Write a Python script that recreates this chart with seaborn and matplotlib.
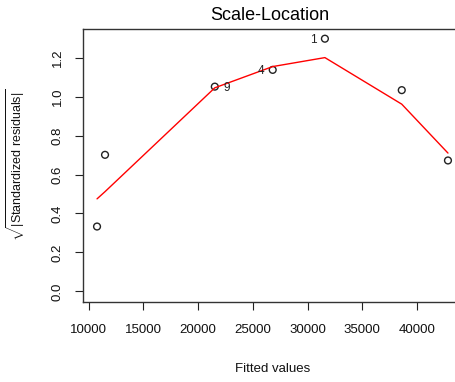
import matplotlib
matplotlib.use("Agg")
import matplotlib.pyplot as plt
import seaborn as sns
import pandas as pd

# Fitted values, sqrt(|standardized residuals|) and the lowess smooth
fitted = [10766, 11496, 21527, 26817, 31587, 38610, 42832]
sqrt_abs_std_resid = [0.333, 0.701, 1.051, 1.137, 1.297, 1.033, 0.672]
smooth = [0.475, 0.512, 1.045, 1.154, 1.200, 0.961, 0.710]
obs_ids = ["", "", "9", "4", "1", "", ""]
label_side = ["", "", "right", "left", "left", "", ""]

x_ticks = [10000, 15000, 20000, 25000, 30000, 35000, 40000]
y_ticks = [0.0, 0.2, 0.4, 0.6, 0.8, 1.0, 1.2]

df = pd.DataFrame({"fitted": fitted, "resid": sqrt_abs_std_resid, "smooth": smooth})

sns.set_style("white")
plt.rcParams["font.family"] = ["Liberation Sans", "DejaVu Sans"]
plt.rcParams["mathtext.fontset"] = "custom"
plt.rcParams["mathtext.rm"] = "Liberation Sans"
plt.rcParams["mathtext.it"] = "Liberation Sans:italic"

W, H = 456, 382
fig = plt.figure(figsize=(W / 100, H / 100), dpi=100)
left, right, top, bottom = 83, 462, 29, 301.5
ax = fig.add_axes([left / W, 1 - bottom / H, (right - left) / W, (bottom - top) / H])

sns.lineplot(data=df, x="fitted", y="smooth", ax=ax, color="#ff0000", linewidth=1.0)
sns.scatterplot(data=df, x="fitted", y="resid", ax=ax, marker="o", s=24,
                facecolor="none", edgecolor="#222222", linewidth=1.0)

for xv, yv, lab, side in zip(fitted, sqrt_abs_std_resid, obs_ids, label_side):
    if not lab:
        continue
    off = 6 if side == "right" else -6
    ax.annotate(lab, (xv, yv), xytext=(off, -1), textcoords="offset points",
                ha="left" if side == "right" else "right", va="center",
                fontsize=8.5, color="#222222")

ymax = 1.295
span = max(fitted) - min(fitted)
ax.set_xlim(min(fitted) - 0.04 * span, max(fitted) + 0.04 * span)
ax.set_ylim(-0.04 * ymax, 1.04 * ymax)

ax.set_xticks(x_ticks)
ax.set_xticklabels([str(t) for t in x_ticks])
ax.set_yticks(y_ticks)
ax.set_yticklabels([f"{t:.1f}" for t in y_ticks], rotation=90, va="center")
ax.tick_params(axis="both", which="major", bottom=True, left=True, direction="out",
               length=6, width=0.8, colors="#222222", labelsize=9.5, labelcolor="#111111")
ax.tick_params(axis="x", pad=10)
ax.tick_params(axis="y", pad=8)
for s in ax.spines.values():
    s.set_color("#333333")
    s.set_linewidth(1.0)

ax.set_xlabel("Fitted values", fontsize=9.5, labelpad=20, color="#111111")
ax.set_ylabel(r"$\sqrt{|\mathrm{Standardized\ residuals}|}$", fontsize=9, labelpad=18,
              color="#111111")
fig.text(270 / W, 1 - 15 / H, "Scale-Location", ha="center", va="center", fontsize=13,
         color="#000000")

fig.savefig("out.png", dpi=100)
